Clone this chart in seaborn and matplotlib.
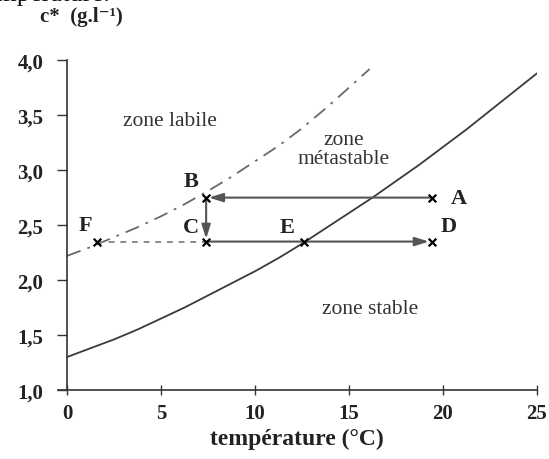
import matplotlib
matplotlib.use("Agg")
import matplotlib.pyplot as plt
import seaborn as sns
import pandas as pd

# solubility curve c*(T)
temp_sol = [0, 1.25, 2.5, 3.75, 5, 6.25, 7.5, 8.75, 10, 11.25, 12.5, 13.75,
            15, 16.25, 17.5, 18.75, 20, 21.25, 22.5, 23.75, 25]
c_sol = [1.30, 1.38, 1.46, 1.55, 1.65, 1.75, 1.86, 1.97, 2.08, 2.20, 2.33,
         2.47, 2.61, 2.75, 2.90, 3.05, 3.21, 3.37, 3.54, 3.71, 3.88]

# supersolubility limit (dash-dot)
temp_super = [0, 1.25, 2.5, 3.75, 5, 6.25, 7.5, 8.75, 10, 11.25, 12.5,
              13.75, 15, 16.1]
c_super = [2.22, 2.30, 2.39, 2.48, 2.58, 2.69, 2.81, 2.94, 3.08, 3.22, 3.38,
           3.56, 3.75, 3.92]

# process points
point_names = ["A", "B", "C", "D", "E", "F"]
point_temp = [19.4, 7.4, 7.4, 19.4, 12.6, 1.6]
point_c = [2.75, 2.75, 2.35, 2.35, 2.35, 2.35]

zone_texts = ["zone labile", "zone\nmétastable", "zone stable"]
zone_temp = [5.5, 14.7, 16.1]
zone_c = [3.45, 3.19, 1.74]

xticks = [0, 5, 10, 15, 20, 25]
yticks = [1.0, 1.5, 2.0, 2.5, 3.0, 3.5, 4.0]

sns.set_theme(style="white")
plt.rcParams["font.family"] = ["Liberation Serif", "DejaVu Serif"]

fig = plt.figure(figsize=(5.49, 4.60), dpi=100)
ax = fig.add_axes([0.105, 0.15, 0.873, 0.717])

# spines first: moving a spine resets the tick labels
ax.spines["top"].set_visible(False)
ax.spines["right"].set_visible(False)
ax.spines["left"].set_position(("data", 0))
for s in ("left", "bottom"):
    ax.spines[s].set_color("#333333")
    ax.spines[s].set_linewidth(1.2)

sol = pd.DataFrame({"T": temp_sol, "c": c_sol})
sup = pd.DataFrame({"T": temp_super, "c": c_super})
sns.lineplot(data=sol, x="T", y="c", color="#3a3a3a", linewidth=1.3, ax=ax)
sns.lineplot(data=sup, x="T", y="c", color="#6a6a6a", linewidth=1.3,
             linestyle=(0, (8, 4, 1.5, 4)), ax=ax)

pts = dict(zip(point_names, zip(point_temp, point_c)))

# F -> C dashed
ax.plot([pts["F"][0], pts["C"][0]], [pts["F"][1], pts["C"][1]],
        color="#8a8a8a", linewidth=1.4, linestyle=(0, (3, 3)))

arrow_kw = dict(arrowstyle="-|>,head_length=0.7,head_width=0.22",
                color="#555555", linewidth=1.5, shrinkA=0, shrinkB=2)
ax.annotate("", xy=pts["B"], xytext=pts["A"], arrowprops=arrow_kw)
ax.annotate("", xy=pts["C"], xytext=pts["B"], arrowprops=arrow_kw)
ax.annotate("", xy=pts["D"], xytext=pts["C"], arrowprops=arrow_kw)

pdf = pd.DataFrame({"T": point_temp, "c": point_c})
sns.scatterplot(data=pdf, x="T", y="c", marker="x", color="black", s=30,
                linewidth=1.6, ax=ax, zorder=5)

label_offsets = {"A": (1.0, 0.0, "left"), "B": (-0.4, 0.15, "right"),
                 "C": (-0.4, 0.13, "right"), "D": (0.5, 0.14, "left"),
                 "E": (-0.9, 0.13, "center"), "F": (-0.6, 0.15, "center")}
for name, t, c in zip(point_names, point_temp, point_c):
    dx, dy, ha = label_offsets[name]
    ax.text(t + dx, c + dy, name, ha=ha, va="center", fontsize=16,
            fontweight="bold", color="#222222")

for txt, t, c in zip(zone_texts, zone_temp, zone_c):
    ax.text(t, c, txt, ha="center", va="center", fontsize=15.5,
            color="#333333", linespacing=1.0)

ax.set_xlim(-0.5, 25)
ax.set_ylim(1.0, 4.0)
ax.spines["bottom"].set_bounds(-0.5, 25)
ax.set_xticks(xticks)
ax.set_xticklabels([str(v) for v in xticks], fontsize=15, fontweight="bold",
                   color="#222222")
ax.set_yticks(yticks)
ax.set_yticklabels([f"{v:.1f}".replace(".", ",") for v in yticks],
                   fontsize=15, fontweight="bold", color="#222222")
ax.tick_params(axis="y", direction="out", length=7, width=1, color="#333333",
               left=True, pad=10)
ax.tick_params(axis="x", direction="inout", length=7, width=1, color="#333333",
               bottom=True, pad=6)

ax.set_xlabel("température (°C)", fontsize=17, fontweight="bold",
              color="#222222", labelpad=3)
ax.set_ylabel("")
fig.text(0.072, 0.962, "c*  (g.l⁻¹)", fontsize=15, fontweight="bold",
         color="#222222", va="center", ha="left")

# clipped line of the surrounding document
fig.text(-0.04, 0.997, "température.", fontsize=19, color="#111111",
         va="baseline", ha="left")

fig.savefig("out.png", dpi=100)
